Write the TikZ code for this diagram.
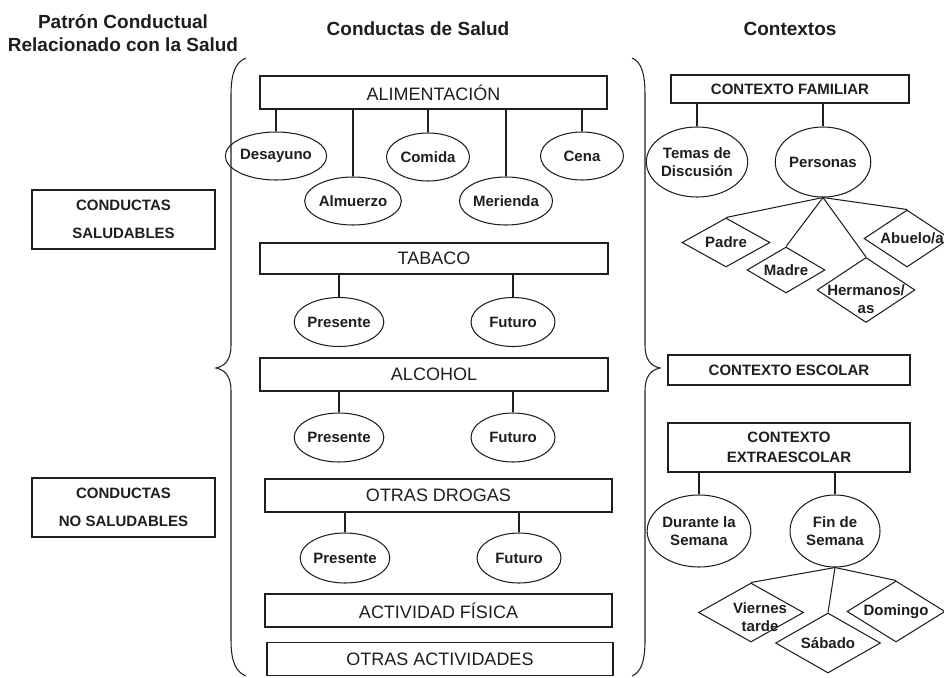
\documentclass[tikz,border=0pt]{standalone}
\usepackage{fontspec}
\setmainfont{Liberation Sans}
\usetikzlibrary{shapes.geometric}
\definecolor{ink}{HTML}{1E1E1E}
\begin{document}
\begin{tikzpicture}[x=1pt,y=-1pt,
  box/.style={draw=ink, rectangle, inner sep=0pt, text=ink, font=\fontsize{18}{20}\selectfont},
  cbox/.style={draw=ink, rectangle, inner sep=0pt, text=ink, align=center, font=\bfseries\fontsize{15}{20}\selectfont},
  ell/.style={draw=ink, ellipse, inner sep=0pt, text=ink, align=center, font=\bfseries\fontsize{15}{18}\selectfont},
  dia/.style={draw=ink, diamond, inner sep=0pt},
  dlab/.style={text=ink, align=center, font=\bfseries\fontsize{15}{18}\selectfont},
  head/.style={text=ink, align=center, font=\bfseries\fontsize{19}{23}\selectfont},
  link/.style={draw=ink, line width=1.05pt},
  brace/.style={draw=ink, line width=1.05pt},
  every node/.append style={line width=1.05pt}]
\useasboundingbox (0,0) rectangle (944,677);

% headers
\node[head] (h1) at (123,33.5) {Patrón Conductual\\Relacionado con la Salud};
\node[head] (h2) at (418,29) {Conductas de Salud};
\node[head] (h3) at (790,29) {Contextos};

% left boxes
\node[cbox, minimum width=183pt, minimum height=59pt, font=\bfseries\fontsize{15}{28}\selectfont] (sal) at (123.5,219.5) {CONDUCTAS\\SALUDABLES};
\node[cbox, minimum width=183pt, minimum height=59pt, font=\bfseries\fontsize{15}{28}\selectfont] (nosal) at (123.5,507.5) {CONDUCTAS\\NO SALUDABLES};

% braces
\draw[brace] (246,58) .. controls (236,62) and (231,72) .. (231,95) -- (231,345)
  .. controls (231,360) and (225,366) .. (216,368)
  .. controls (225,370) and (231,376) .. (231,391) -- (231,640)
  .. controls (231,662) and (236,672) .. (246,676);
\draw[brace] (632,58) .. controls (641,62) and (645,72) .. (645,95) -- (645,345)
  .. controls (645,360) and (651,366) .. (660,368)
  .. controls (651,370) and (645,376) .. (645,391) -- (645,640)
  .. controls (645,662) and (641,672) .. (632,676);

% middle column
\node[box, minimum width=347pt, minimum height=33pt] (alim) at (433.5,92.5) {ALIMENTACIÓN};
\node[ell, minimum width=85pt, minimum height=48pt] (des) at (276,156) {Desayuno};
\node[ell, minimum width=83pt, minimum height=48pt] (alm) at (353,201) {Almuerzo};
\node[ell, minimum width=83pt, minimum height=48pt] (com) at (428,157) {Comida};
\node[ell, minimum width=83pt, minimum height=48pt] (mer) at (506,201) {Merienda};
\node[ell, minimum width=83pt, minimum height=48pt] (cen) at (582,156) {Cena};
\foreach \n in {des,alm,com,mer,cen} \draw[link] (\n.north) -- (\n.north |- alim.south);

\node[box, minimum width=348pt, minimum height=31pt] (tab) at (434,258.5) {TABACO};
\node[ell, minimum width=84pt, minimum height=49pt] (pa) at (339,322) {Presente};
\node[ell, minimum width=84pt, minimum height=49pt] (fa) at (513,322) {Futuro};
\foreach \n in {pa,fa} \draw[link] (\n.north) -- (\n.north |- tab.south);

\node[box, minimum width=348pt, minimum height=33pt] (alc) at (434,374.5) {ALCOHOL};
\node[ell, minimum width=84pt, minimum height=49pt] (pb) at (339,437.5) {Presente};
\node[ell, minimum width=84pt, minimum height=49pt] (fb) at (513,437.5) {Futuro};
\foreach \n in {pb,fb} \draw[link] (\n.north) -- (\n.north |- alc.south);

\node[box, minimum width=347pt, minimum height=33pt] (dro) at (438.5,495.5) {OTRAS DROGAS};
\node[ell, minimum width=84pt, minimum height=50pt] (pc) at (345,558) {Presente};
\node[ell, minimum width=84pt, minimum height=50pt] (fc) at (519,558) {Futuro};
\foreach \n in {pc,fc} \draw[link] (\n.north) -- (\n.north |- dro.south);

\node[box, minimum width=347pt, minimum height=33pt] (fis) at (438.5,610.5) {ACTIVIDAD FÍSICA};
\node[box, minimum width=346pt, minimum height=33pt] (otr) at (440,659) {OTRAS ACTIVIDADES};

% right column
\node[cbox, minimum width=238pt, minimum height=28pt] (fam) at (790,89) {CONTEXTO FAMILIAR};
\node[ell, minimum width=89pt, minimum height=70pt] (tem) at (697,162) {Temas de\\Discusión};
\node[ell, minimum width=90pt, minimum height=70pt] (per) at (823,162) {Personas};
\foreach \n in {tem,per} \draw[link] (\n.north) -- (\n.north |- fam.south);

\node[dia, minimum width=88pt, minimum height=49pt, label={[dlab]center:Padre}] (pad) at (726,242.5) {};
\node[dia, minimum width=78pt, minimum height=46pt, label={[dlab]center:Madre}] (mad) at (786,270) {};
\node[dia, minimum width=98pt, minimum height=65pt, label={[dlab, yshift=-9pt]center:Hermanos/\\as}] (her) at (866,290) {};
\node[dia, minimum width=86pt, minimum height=57pt, label={[dlab, xshift=5pt]center:Abuelo/a}] (abu) at (907,238.5) {};
\foreach \n in {pad,mad,her,abu} \draw[link] (per.south) -- (\n.north);

\node[cbox, minimum width=242pt, minimum height=30pt] (esc) at (789,370) {CONTEXTO ESCOLAR};
\node[cbox, minimum width=242pt, minimum height=49pt] (ext) at (789,447.5) {CONTEXTO\\EXTRAESCOLAR};
\node[ell, minimum width=88pt, minimum height=72pt] (dur) at (699,531) {Durante la\\Semana};
\node[ell, minimum width=90pt, minimum height=72pt] (fin) at (835,531) {Fin de\\Semana};
\foreach \n in {dur,fin} \draw[link] (\n.north) -- (\n.north |- ext.south);

\node[dia, minimum width=105pt, minimum height=59pt, label={[dlab, xshift=9pt, yshift=-5pt]center:Viernes\\tarde}] (vie) at (751,612.5) {};
\node[dia, minimum width=105pt, minimum height=60pt, label={[dlab]center:Sábado}] (sab) at (828,643) {};
\node[dia, minimum width=98pt, minimum height=61pt, label={[dlab]center:Domingo}] (dom) at (896,611.5) {};
\foreach \n in {vie,sab,dom} \draw[link] (fin.south) -- (\n.north);
\end{tikzpicture}
\end{document}
